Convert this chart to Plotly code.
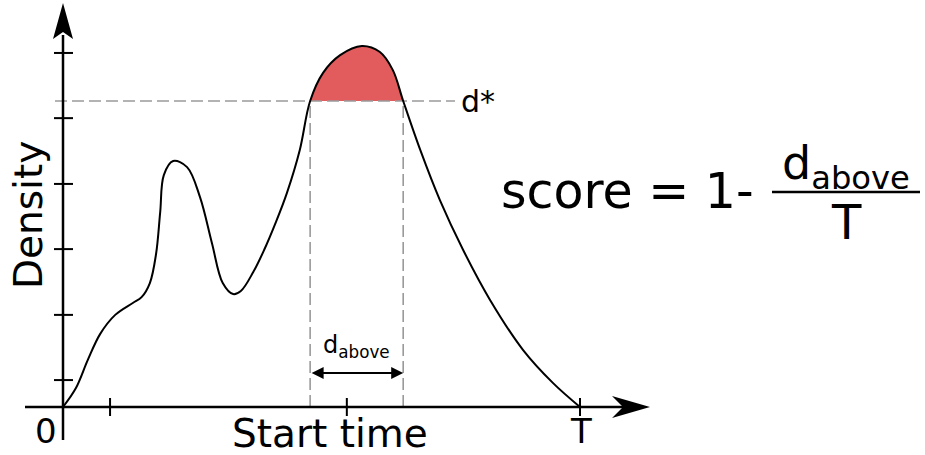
import plotly.graph_objects as go

# density curve over start time (T = 100)
start_time = [0, 2.5, 4.8, 7.2, 10.1, 13.5, 15.2, 16.8, 18.0, 18.8, 19.5, 21.3,
              24.0, 26.5, 28.8, 30.9, 32.9, 34.4, 36.8, 38.9, 41.2, 43.3, 45.8, 47.8,
              50.3, 53.6, 57.8, 61.3, 63.8, 65.8, 69.1, 72.9, 77.4, 82.6, 89.0,
              94.8, 100]
density = [0, 6.2, 15.4, 23.9, 30.1, 34.0, 35.9, 40.5, 50.0, 63.7, 75.8, 80.4,
           78.4, 68.6, 53.6, 40.5, 36.9, 37.9, 44.1, 51.3, 60.5, 69.9, 84.0, 100,
           109.2, 115.0, 118.0, 116.0, 110.1, 100, 84.0, 67.6, 51.3, 35.0, 18.6,
           7.8, 0]

T = 100
d_star = 100
x_ticks = [9.1, 54.9, 100]
y_ticks = [8.8, 30.1, 51.6, 72.9, 94.4, 115.7]

# pixel <-> data scale of the canvas
PX_T, PX_D, X0, Y0 = 5.17, 3.06, 63, 407
W, H = 925, 455


def tx(px):
    return (px - X0) / PX_T


def dy(py):
    return (Y0 - py) / PX_D


above = [i for i, d in enumerate(density) if d >= d_star]
t_lo, t_hi = start_time[above[0]], start_time[above[-1]]

fig = go.Figure()

# red area above d*
fig.add_trace(go.Scatter(x=[t_lo, t_hi], y=[d_star, d_star], mode='lines',
                         line=dict(width=0), hoverinfo='skip'))
fig.add_trace(go.Scatter(x=start_time[above[0]:above[-1] + 1],
                         y=density[above[0]:above[-1] + 1],
                         mode='lines', line=dict(width=0, shape='spline'),
                         fill='tonexty', fillcolor='#e25b5d', hoverinfo='skip'))

# dashed guides
gray = dict(color='#9a9a9a', width=1.6, dash='12px,5px')
fig.add_trace(go.Scatter(x=[tx(55), tx(455)], y=[d_star, d_star], mode='lines', line=gray))
for t in (t_lo, t_hi):
    fig.add_trace(go.Scatter(x=[t, t], y=[0, d_star], mode='lines', line=gray))

# density curve
fig.add_trace(go.Scatter(x=start_time, y=density, mode='lines',
                         line=dict(color='black', width=2, shape='spline')))

shapes = []
ax_line = dict(color='black', width=2.5)
# axes
shapes.append(dict(type='line', x0=tx(25), x1=tx(625), y0=0, y1=0, line=ax_line))
shapes.append(dict(type='line', x0=0, x1=0, y0=dy(440), y1=dy(35), line=ax_line))
# arrow heads
shapes.append(dict(type='path', fillcolor='black', line=dict(width=0),
                   path=f'M {tx(650)},{dy(407)} L {tx(612)},{dy(396)} L {tx(623)},{dy(407)} '
                        f'L {tx(612)},{dy(418)} Z'))
shapes.append(dict(type='path', fillcolor='black', line=dict(width=0),
                   path=f'M {tx(63)},{dy(3)} L {tx(53)},{dy(39)} L {tx(63)},{dy(32)} '
                        f'L {tx(73)},{dy(39)} Z'))
# ticks crossing the axes
for t in x_ticks:
    shapes.append(dict(type='line', x0=t, x1=t, y0=dy(398), y1=dy(416),
                       line=dict(color='black', width=2)))
for d in y_ticks:
    shapes.append(dict(type='line', x0=tx(54), x1=tx(73), y0=d, y1=d,
                       line=dict(color='black', width=2)))
# fraction bar
shapes.append(dict(type='line', x0=tx(772), x1=tx(920), y0=dy(192), y1=dy(192),
                   line=dict(color='black', width=2.5)))

font = 'DejaVu Sans'
ann = []


def label(text, x, y, size, **kw):
    ann.append(dict(text=text, x=x, y=y, showarrow=False,
                    font=dict(family=font, size=size, color='black'), **kw))


label('Density', tx(28), dy(215), 39, textangle=-90)
label('Start time', tx(330), dy(433), 39)
label('0', tx(46), dy(431), 34)
label('T', tx(581), dy(431), 34)
label('d*', tx(459), d_star, 30, xanchor='left')
label('d<sub>above</sub>', (t_lo + t_hi) / 2, dy(346), 24)
label('score = 1-', tx(499), dy(191), 49, xanchor='left')
label('d<sub>above</sub>', tx(846), dy(166), 46)
label('T', tx(846), dy(222), 48)

# double arrow for d_above
ann.append(dict(x=t_hi, y=dy(373), ax=t_lo, ay=dy(373), axref='x', ayref='y',
                text='', showarrow=True, arrowhead=2, arrowside='end+start',
                arrowsize=1.2, arrowwidth=2, arrowcolor='black'))

fig.update_layout(width=W, height=H, margin=dict(l=0, r=0, t=0, b=0),
                  plot_bgcolor='white', paper_bgcolor='white', showlegend=False,
                  shapes=shapes, annotations=ann,
                  xaxis=dict(range=[tx(0), tx(W)], visible=False),
                  yaxis=dict(range=[dy(H), dy(0)], visible=False))

fig.write_html("out.html", config={'displayModeBar': False},
               post_script="document.body.style.margin='0';")
